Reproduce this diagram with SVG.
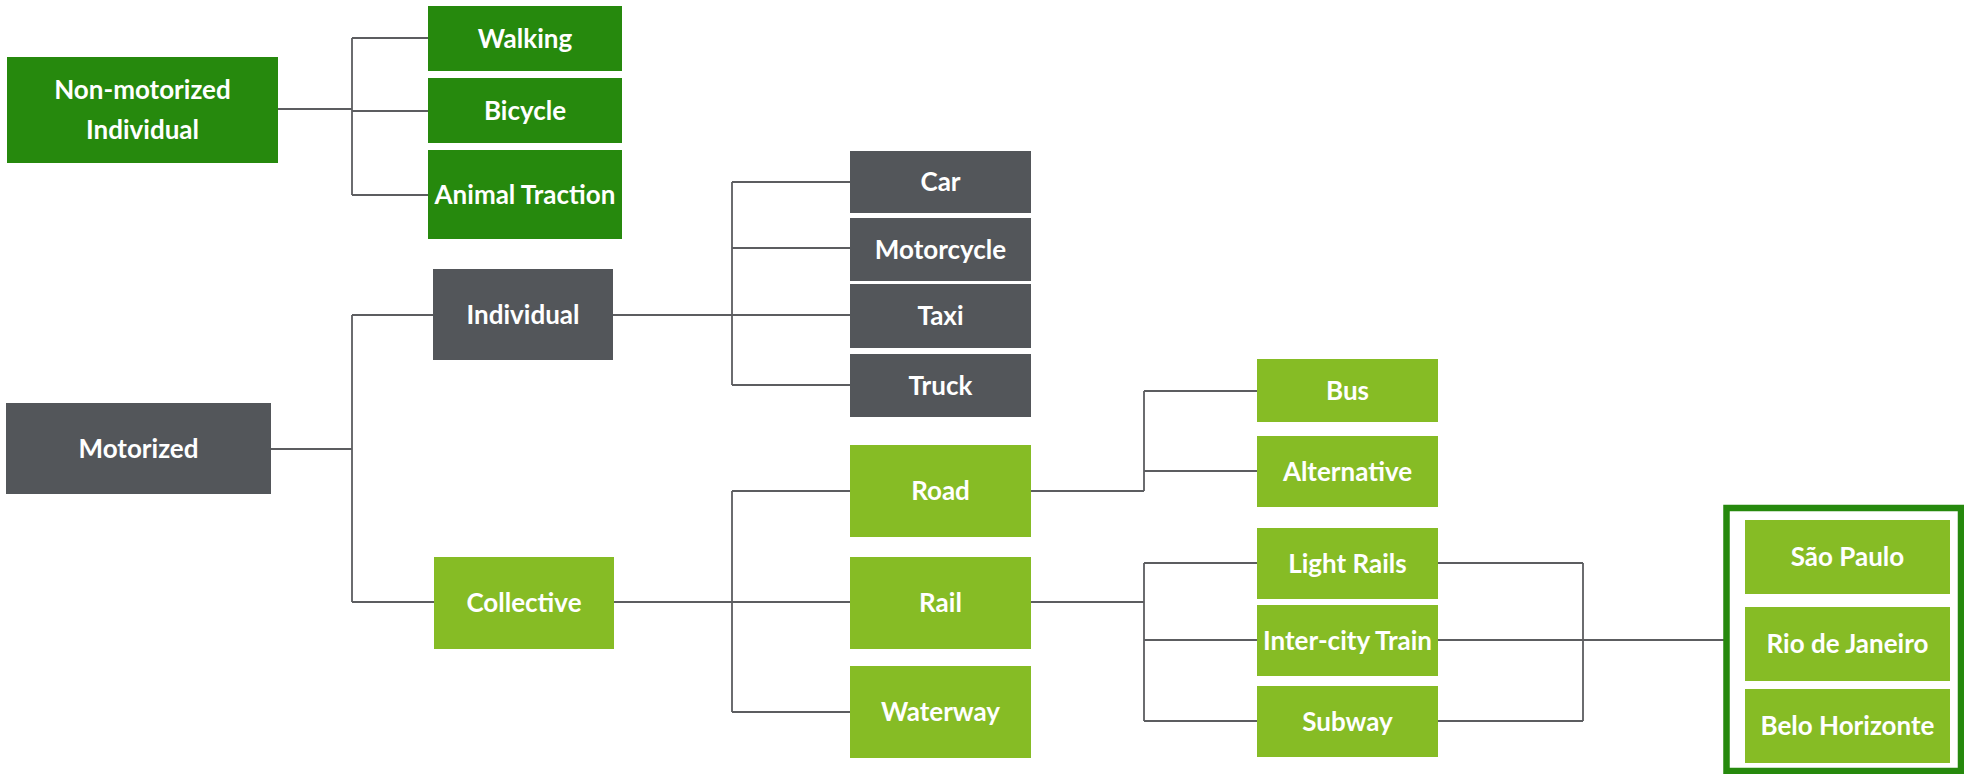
<svg xmlns="http://www.w3.org/2000/svg" width="1964" height="774" viewBox="0 0 1964 774">
<style>
.dg{fill:#26890D}
.lg{fill:#86BC25}
.gr{fill:#53565A}
.t{fill:#FFFFFF;font-family:Lato,"Open Sans","Liberation Sans",sans-serif;font-weight:700;font-size:26px;text-anchor:middle}
.c{fill:none;stroke:#5C5D60;stroke-width:1.8}
</style>
<rect width="1964" height="774" fill="#FFFFFF"/>
<g id="connectors" class="c">
<path d="M278,109 H352 M352,38 V195 M352,38 H428 M352,111 H428 M352,195 H428"/>
<path d="M271,449 H352 M352,315 V602 M352,315 H433 M352,602 H434"/>
<path d="M613,315 H732 M732,182 V385 M732,182 H850 M732,248 H850 M732,315 H850 M732,385 H850"/>
<path d="M614,602 H732 M732,491 V712 M732,491 H850 M732,602 H850 M732,712 H850"/>
<path d="M1031,491 H1144 M1144,391 V491 M1144,391 H1257 M1144,471 H1257"/>
<path d="M1031,602 H1144 M1144,563 V721 M1144,563 H1257 M1144,640 H1257 M1144,721 H1257"/>
<path d="M1438,563 H1583 M1438,640 H1583 M1438,721 H1583 M1583,563 V721 M1583,640 H1724"/>
</g>
<g id="node-nonmotorized"><rect class="dg" x="7" y="57" width="271" height="106"/><text class="t" x="142.5" y="99">Non-motorized</text><text class="t" x="142.5" y="139">Individual</text></g>
<g id="node-walking"><rect class="dg" x="428" y="6" width="194" height="65"/><text class="t" x="525" y="47.5">Walking</text></g>
<g id="node-bicycle"><rect class="dg" x="428" y="78" width="194" height="65"/><text class="t" x="525" y="119.5">Bicycle</text></g>
<g id="node-animal"><rect class="dg" x="428" y="150" width="194" height="89"/><text class="t" x="525" y="203.5">Animal Traction</text></g>
<g id="node-motorized"><rect class="gr" x="6" y="403" width="265" height="91"/><text class="t" x="138.5" y="457.5">Motorized</text></g>
<g id="node-individual"><rect class="gr" x="433" y="269" width="180" height="91"/><text class="t" x="523" y="323.5">Individual</text></g>
<g id="node-collective"><rect class="lg" x="434" y="557" width="180" height="92"/><text class="t" x="524" y="612">Collective</text></g>
<g id="node-car"><rect class="gr" x="850" y="151" width="181" height="62"/><text class="t" x="940.5" y="191">Car</text></g>
<g id="node-motorcycle"><rect class="gr" x="850" y="218" width="181" height="63"/><text class="t" x="940.5" y="258.5">Motorcycle</text></g>
<g id="node-taxi"><rect class="gr" x="850" y="284" width="181" height="64"/><text class="t" x="940.5" y="325">Taxi</text></g>
<g id="node-truck"><rect class="gr" x="850" y="354" width="181" height="63"/><text class="t" x="940.5" y="394.5">Truck</text></g>
<g id="node-road"><rect class="lg" x="850" y="445" width="181" height="92"/><text class="t" x="940.5" y="500">Road</text></g>
<g id="node-rail"><rect class="lg" x="850" y="557" width="181" height="92"/><text class="t" x="940.5" y="612">Rail</text></g>
<g id="node-waterway"><rect class="lg" x="850" y="666" width="181" height="92"/><text class="t" x="940.5" y="721">Waterway</text></g>
<g id="node-bus"><rect class="lg" x="1257" y="359" width="181" height="63"/><text class="t" x="1347.5" y="399.5">Bus</text></g>
<g id="node-alternative"><rect class="lg" x="1257" y="436" width="181" height="71"/><text class="t" x="1347.5" y="480.5">Alternative</text></g>
<g id="node-lightrails"><rect class="lg" x="1257" y="528" width="181" height="71"/><text class="t" x="1347.5" y="572.5">Light Rails</text></g>
<g id="node-intercity"><rect class="lg" x="1257" y="605" width="181" height="71"/><text class="t" x="1347.5" y="649.5">Inter-city Train</text></g>
<g id="node-subway"><rect class="lg" x="1257" y="686" width="181" height="71"/><text class="t" x="1347.5" y="730.5">Subway</text></g>
<g id="node-cities">
<rect x="1726.5" y="508" width="234.5" height="263" fill="#FFFFFF" stroke="#26890D" stroke-width="6.5"/>
<g id="node-saopaulo"><rect class="lg" x="1745" y="520" width="205" height="74"/><text class="t" x="1847.5" y="566">São Paulo</text></g>
<g id="node-rio"><rect class="lg" x="1745" y="607" width="205" height="74"/><text class="t" x="1847.5" y="653">Rio de Janeiro</text></g>
<g id="node-belo"><rect class="lg" x="1745" y="689" width="205" height="74"/><text class="t" x="1847.5" y="735">Belo Horizonte</text></g>
</g>
</svg>
